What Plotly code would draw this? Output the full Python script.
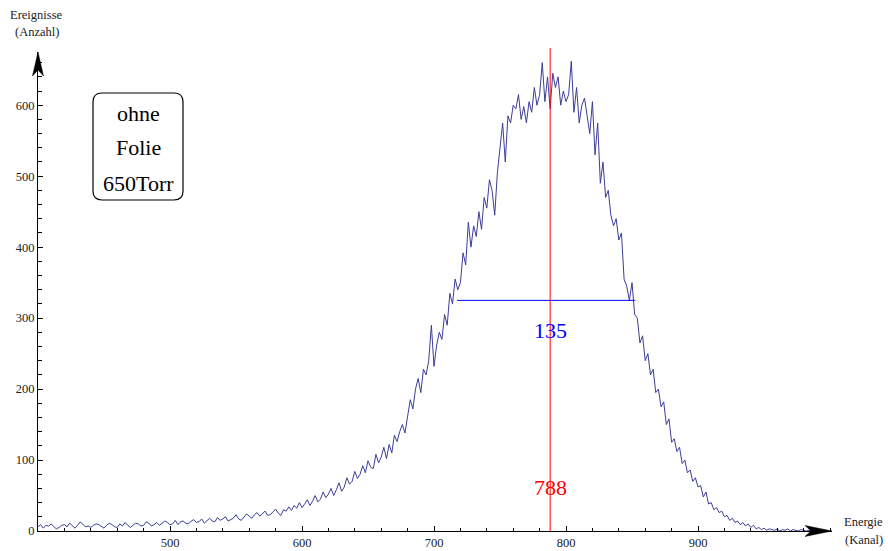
import plotly.graph_objects as go

# ---------------- data ----------------
channels = list(range(400, 992, 2))
counts = [
    6, 9, 4, 8, 7, 10, 6, 3, 5, 8, 9, 6, 11, 7, 4, 8, 13, 9, 6, 7,          # 400-438
    5, 8, 10, 9, 6, 4, 8, 11, 9, 6, 5, 10, 7, 12, 8, 5, 8, 11, 10, 7,       # 440-478
    8, 13, 11, 7, 9, 12, 8, 11, 14, 12, 9, 10, 15, 9, 13, 14, 11, 10, 14, 16,  # 480-518
    12, 13, 17, 11, 15, 18, 14, 13, 19, 15, 17, 20, 14, 16, 18, 23, 17, 15, 20, 24,  # 520-558
    21, 18, 23, 26, 21, 24, 28, 22, 23, 27, 31, 25, 22, 30, 28, 34, 29, 36, 32, 40,  # 560-598
    33, 38, 44, 36, 42, 50, 41, 45, 55, 47, 52, 60, 50, 58, 68, 56, 62, 75, 66, 70,  # 600-638
    84, 74, 80, 92, 82, 99, 90, 88, 108, 96, 104, 118, 102, 122, 110, 135, 126, 140, 150, 138,  # 640-678
    165, 185, 172, 200, 215, 195, 228, 220, 240, 290, 232, 262, 280, 270, 305, 290, 335, 320, 355, 340,  # 680-718
    350, 392, 375, 435, 400, 430, 415, 450, 425, 470, 455, 495, 480, 445, 505, 540, 575, 520, 585, 575,  # 720-758
    600, 595, 615, 580, 598, 575, 605, 590, 625, 600, 615, 660, 605, 640, 595, 645, 625, 640, 600, 620,  # 760-798
    605, 615, 662, 590, 625, 575, 600, 610, 585, 560, 605, 530, 575, 490, 520, 470, 480, 445, 430, 440,  # 800-838
    410, 420, 355, 345, 325, 350, 305, 300, 265, 275, 240, 250, 220, 228, 195, 200, 175, 182, 150, 158,  # 840-878
    125, 130, 112, 118, 95, 100, 82, 86, 70, 75, 62, 64, 48, 55, 38, 40, 30, 33, 26, 28,  # 880-918
    20, 22, 15, 18, 12, 14, 9, 12, 7, 10, 5, 8, 3, 5, 2, 4, 1, 3, 2, 1,  # 920-958
    3, 0, 2, 1, 3, 0, 2, 1, 0, 2, 1, 0, 1, 0, 1, 0,  # 960-990
]

peak_channel = 788
half_max = 325
fwhm_left = 717.5
fwhm_right = 852.5
fwhm_label = "135"
peak_label = "788"

x_major = [500, 600, 700, 800, 900]
y_major = [0, 100, 200, 300, 400, 500, 600]
box_lines = ["ohne", "Folie", "650Torr"]

# ---------------- layout helpers (pixel -> paper, decoration only) ----------------
W, H = 888, 551
L, R, T, B = 38, 56, 52, 20
PW, PH = W - L - R, H - T - B


def px(xp, yp):
    return (xp - L) / PW, (H - B - yp) / PH


def path(points, close=True):
    s = ""
    for i, (a, b) in enumerate(points):
        u, v = px(a, b)
        s += ("M" if i == 0 else "L") + f"{u:.5f},{v:.5f}"
    return s + ("Z" if close else "")


serif = "Liberation Serif, Times New Roman, serif"

fig = go.Figure()
fig.add_trace(go.Scatter(
    x=channels, y=counts, mode="lines",
    line=dict(color="#3d3d99", width=1),
    hoverinfo="skip", showlegend=False,
))

shapes = []
shapes.append(dict(type="line", xref="x", yref="paper", x0=peak_channel, x1=peak_channel,
                   y0=0, y1=px(0, 48)[1], line=dict(color="#ff0000", width=1), layer="above"))
shapes.append(dict(type="line", xref="x", yref="y", x0=fwhm_left, x1=fwhm_right,
                   y0=half_max, y1=half_max, line=dict(color="#0000ff", width=1), layer="above"))
shapes.append(dict(type="path", xref="paper", yref="paper",
                   path=path([(832, 531), (805, 525.5), (811, 531), (805, 536.5)]),
                   fillcolor="black", line=dict(color="black", width=0.5)))
shapes.append(dict(type="path", xref="paper", yref="paper",
                   path=path([(38, 52), (32.5, 76), (38, 70), (43.5, 76)]),
                   fillcolor="black", line=dict(color="black", width=0.5)))
x0b, y0b, x1b, y1b, rr = 93, 93, 183, 200, 9


def P(a, b):
    u, v = px(a, b)
    return f"{u:.5f},{v:.5f}"


box_path = (f"M{P(x0b + rr, y0b)}L{P(x1b - rr, y0b)}Q{P(x1b, y0b)} {P(x1b, y0b + rr)}"
            f"L{P(x1b, y1b - rr)}Q{P(x1b, y1b)} {P(x1b - rr, y1b)}"
            f"L{P(x0b + rr, y1b)}Q{P(x0b, y1b)} {P(x0b, y1b - rr)}"
            f"L{P(x0b, y0b + rr)}Q{P(x0b, y0b)} {P(x0b + rr, y0b)}Z")
shapes.append(dict(type="path", xref="paper", yref="paper", path=box_path,
                   line=dict(color="black", width=1.2), fillcolor="white"))

annotations = []
for txt, yy in zip(box_lines, [114, 148, 183]):
    u, v = px(138, yy)
    annotations.append(dict(text=txt, x=u, y=v, xref="paper", yref="paper", showarrow=False,
                            xanchor="center", yanchor="middle",
                            font=dict(family=serif, size=22, color="black")))
for txt, (a, b) in [("Ereignisse", (36, 15)), ("(Anzahl)", (37, 32)),
                    ("Energie", (863, 522)), ("(Kanal)", (864, 540))]:
    u, v = px(a, b)
    annotations.append(dict(text=txt, x=u, y=v, xref="paper", yref="paper", showarrow=False,
                            xanchor="center", yanchor="middle",
                            font=dict(family=serif, size=12.5, color="#222")))
annotations.append(dict(text=fwhm_label, x=peak_channel, y=283, xref="x", yref="y",
                        showarrow=False, xanchor="center", yanchor="middle",
                        font=dict(family=serif, size=22, color="#0000ff")))
annotations.append(dict(text=peak_label, x=peak_channel, y=62, xref="x", yref="y",
                        showarrow=False, xanchor="center", yanchor="middle",
                        font=dict(family=serif, size=22, color="#ff0000")))

axis_common = dict(
    ticks="inside", ticklen=5, tickcolor="black", tickwidth=1,
    showline=True, linecolor="black", linewidth=1,
    showgrid=False, zeroline=False, automargin=False,
    tickfont=dict(family=serif, size=12.5, color="#222"),
)

fig.update_layout(
    width=W, height=H,
    margin=dict(l=L, r=R, t=T, b=B, autoexpand=False),
    paper_bgcolor="white", plot_bgcolor="white",
    shapes=shapes, annotations=annotations,
    showlegend=False,
    xaxis=dict(range=[400, 1001.5], tickmode="array", tickvals=x_major,
               ticktext=[str(v) for v in x_major],
               minor=dict(tick0=400, dtick=20, ticks="inside", ticklen=3.5,
                          tickcolor="black", tickwidth=1),
               **axis_common),
    yaxis=dict(range=[0, 675], tickmode="array", tickvals=y_major,
               ticktext=[str(v) for v in y_major],
               minor=dict(tick0=0, dtick=20, ticks="inside", ticklen=3.5,
                          tickcolor="black", tickwidth=1),
               **axis_common),
)

fig.write_html(
    "out.html",
    config={"displayModeBar": False},
    post_script="document.body.style.margin='0';document.body.style.overflow='hidden';",
)
